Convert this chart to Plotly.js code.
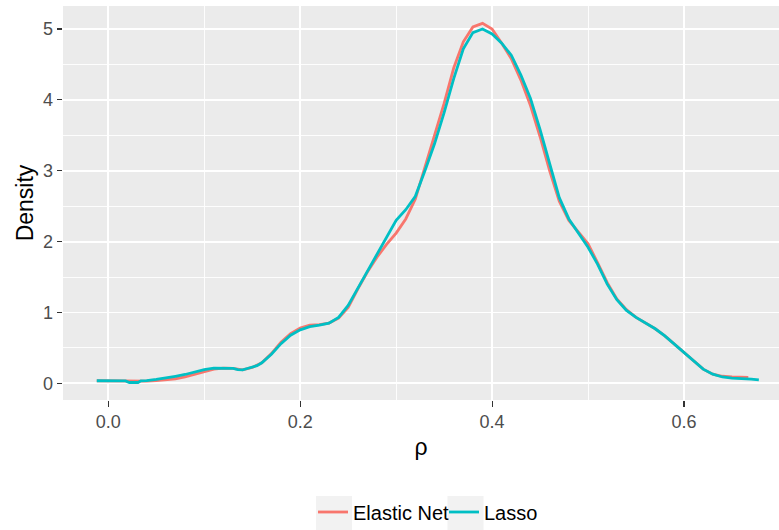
<!DOCTYPE html>
<html>
<head>
<meta charset="utf-8">
<script src="https://cdn.plot.ly/plotly-3.0.1.min.js"></script>
<style>html,body{margin:0;padding:0;background:#fff;overflow:hidden}#chart{width:779px;height:530px}</style>
</head>
<body>
<div id="chart"></div>
<script>
// Density of rho for two methods
const seriesNames = ["Elastic Net", "Lasso"];
const seriesColors = ["#F8766D", "#00BFC4"];

const rhoElastic = [-0.012, 0.00, 0.01, 0.02, 0.03, 0.04, 0.05, 0.06, 0.07, 0.08, 0.09, 0.10, 0.11, 0.12, 0.13, 0.14, 0.15, 0.16, 0.17, 0.18, 0.19, 0.20, 0.21, 0.22, 0.23, 0.24, 0.25, 0.26, 0.27, 0.28, 0.29, 0.30, 0.31, 0.32, 0.33, 0.34, 0.35, 0.36, 0.37, 0.38, 0.39, 0.40, 0.41, 0.42, 0.43, 0.44, 0.45, 0.46, 0.47, 0.48, 0.49, 0.50, 0.51, 0.52, 0.53, 0.54, 0.55, 0.56, 0.57, 0.58, 0.59, 0.60, 0.61, 0.62, 0.63, 0.64, 0.65, 0.66, 0.667];
const densElastic = [0.037, 0.035, 0.03, 0.032, 0.025, 0.03, 0.04, 0.05, 0.065, 0.09, 0.13, 0.17, 0.20, 0.215, 0.21, 0.19, 0.225, 0.29, 0.42, 0.58, 0.70, 0.78, 0.82, 0.83, 0.85, 0.92, 1.07, 1.33, 1.57, 1.78, 1.96, 2.12, 2.32, 2.60, 3.04, 3.50, 3.95, 4.45, 4.82, 5.03, 5.08, 5.00, 4.80, 4.58, 4.28, 3.92, 3.48, 3.00, 2.57, 2.30, 2.13, 1.97, 1.70, 1.42, 1.19, 1.04, 0.93, 0.85, 0.77, 0.67, 0.55, 0.44, 0.31, 0.20, 0.13, 0.10, 0.09, 0.085, 0.085];

const rhoLasso = [-0.012, 0.00, 0.01, 0.018, 0.022, 0.031, 0.034, 0.04, 0.05, 0.06, 0.07, 0.08, 0.09, 0.10, 0.11, 0.12, 0.13, 0.135, 0.14, 0.145, 0.15, 0.155, 0.16, 0.17, 0.18, 0.19, 0.20, 0.21, 0.22, 0.23, 0.24, 0.25, 0.26, 0.27, 0.28, 0.29, 0.30, 0.31, 0.32, 0.33, 0.34, 0.35, 0.36, 0.37, 0.38, 0.39, 0.40, 0.41, 0.42, 0.43, 0.44, 0.45, 0.46, 0.47, 0.48, 0.49, 0.50, 0.51, 0.52, 0.53, 0.54, 0.55, 0.56, 0.57, 0.58, 0.59, 0.60, 0.61, 0.62, 0.63, 0.64, 0.65, 0.66, 0.67, 0.678];
const densLasso = [0.037, 0.037, 0.036, 0.035, 0.012, 0.012, 0.035, 0.038, 0.056, 0.075, 0.10, 0.125, 0.16, 0.195, 0.215, 0.215, 0.21, 0.195, 0.19, 0.21, 0.225, 0.25, 0.29, 0.41, 0.56, 0.68, 0.755, 0.80, 0.82, 0.85, 0.93, 1.10, 1.34, 1.58, 1.83, 2.07, 2.30, 2.45, 2.64, 3.00, 3.38, 3.82, 4.30, 4.72, 4.95, 5.00, 4.93, 4.80, 4.63, 4.35, 4.02, 3.58, 3.08, 2.62, 2.32, 2.12, 1.92, 1.68, 1.40, 1.18, 1.03, 0.93, 0.85, 0.77, 0.67, 0.55, 0.44, 0.31, 0.20, 0.13, 0.09, 0.075, 0.07, 0.06, 0.05];

const xTickVals = [0.0, 0.2, 0.4, 0.6];
const xTickText = ["0.0", "0.2", "0.4", "0.6"];
const yTickVals = [0, 1, 2, 3, 4, 5];
const yTickText = ["0", "1", "2", "3", "4", "5"];

const FONT = "Liberation Sans, Arial, Helvetica, sans-serif";

const traces = [
  {x: rhoElastic, y: densElastic, name: seriesNames[0], type: "scatter", mode: "lines",
   line: {color: seriesColors[0], width: 2.8}},
  {x: rhoLasso, y: densLasso, name: seriesNames[1], type: "scatter", mode: "lines",
   line: {color: seriesColors[1], width: 2.8}}
];

const axisCommon = {
  showline: false, zeroline: false,
  gridcolor: "#FFFFFF", gridwidth: 1.8,
  ticks: "outside", ticklen: 5.5, tickwidth: 1.1, tickcolor: "#333333",
  tickfont: {family: FONT, size: 18, color: "#4D4D4D"},
  fixedrange: true
};

const layout = {
  width: 779, height: 530,
  margin: {l: 63, r: 0, t: 6, b: 130},
  paper_bgcolor: "#FFFFFF", plot_bgcolor: "#EBEBEB",
  font: {family: FONT, color: "#000000"},
  xaxis: Object.assign({}, axisCommon, {
    range: [-0.0472, 0.699],
    tickmode: "array", tickvals: xTickVals, ticktext: xTickText,
    minor: {dtick: 0.1, tick0: 0, showgrid: true, gridcolor: "#FFFFFF", gridwidth: 0.9, ticks: ""},
    title: {text: "ρ", font: {family: FONT, size: 23, color: "#000000"}, standoff: 7}
  }),
  yaxis: Object.assign({}, axisCommon, {
    range: [-0.235, 5.325],
    tickmode: "array", tickvals: yTickVals, ticktext: yTickText,
    minor: {dtick: 0.5, tick0: 0, showgrid: true, gridcolor: "#FFFFFF", gridwidth: 0.9, ticks: ""},
    title: {text: "Density", font: {family: FONT, size: 23, color: "#000000"}, standoff: 2}
  }),
  showlegend: true,
  legend: {
    orientation: "h", xref: "container", yref: "container",
    x: 313/779, xanchor: "left", y: 18/530, yanchor: "middle",
    bgcolor: "rgba(0,0,0,0)", borderwidth: 0,
    entrywidth: 86, entrywidthmode: "pixels",
    font: {family: FONT, size: 20, color: "#000000"},
    itemclick: false, itemdoubleclick: false
  },
  shapes: [
    {type: "rect", xref: "paper", yref: "paper", x0: (316-63)/716, x1: (352-63)/716, y0: (400-496)/394, y1: (400-532)/394,
     fillcolor: "#F2F2F2", line: {width: 0}, layer: "below"},
    {type: "rect", xref: "paper", yref: "paper", x0: (447.5-63)/716, x1: (483.5-63)/716, y0: (400-496)/394, y1: (400-532)/394,
     fillcolor: "#F2F2F2", line: {width: 0}, layer: "below"}
  ]
};

Plotly.newPlot("chart", traces, layout, {displayModeBar: false, staticPlot: true});
</script>
</body>
</html>
